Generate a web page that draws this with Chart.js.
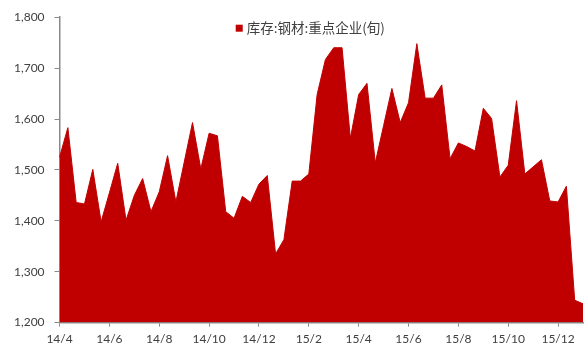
<!DOCTYPE html>
<html>
<head>
<meta charset="utf-8">
<script src="https://cdn.jsdelivr.net/npm/chart.js@4/dist/chart.umd.min.js"></script>
<style>
    html, body { margin: 0; padding: 0; background: #fff; }
    #wrap { width: 584px; height: 349px; }
</style>
</head>
<body>
<div id="wrap"><canvas id="stock-chart"></canvas></div>
<script>
// Months covered by the series, three dekads (上/中/下旬) each
const months = ['14/4', '14/5', '14/6', '14/7', '14/8', '14/9', '14/10', '14/11', '14/12',
    '15/1', '15/2', '15/3', '15/4', '15/5', '15/6', '15/7', '15/8', '15/9', '15/10', '15/11', '15/12', '16/1'];
const dekads = ['上旬', '中旬', '下旬'];

// Labels shown under the x axis, one every two months
const tickLabels = ['14/4', '14/6', '14/8', '14/10', '14/12', '15/2', '15/4', '15/6', '15/8', '15/10', '15/12'];

// 库存:钢材:重点企业(旬), 万吨
const stockValues = [
    1525, 1583, 1436, 1433, 1501, 1398, 1455, 1513, 1401, 1450, 1483, 1418,
    1457, 1528, 1437, 1515, 1593, 1502, 1572, 1567, 1418, 1405, 1448, 1436,
    1472, 1489, 1335, 1363, 1478, 1478, 1492, 1648, 1717, 1740, 1740, 1562,
    1648, 1670, 1514, 1587, 1660, 1593, 1632, 1748, 1641, 1641, 1667, 1522,
    1553, 1546, 1537, 1621, 1601, 1486, 1509, 1636, 1492, 1506, 1520, 1439,
    1437, 1468, 1244, 1237
];

const seriesName = '库存:钢材:重点企业(旬)';
const seriesColor = '#C00000';
const axisColor = '#898989';
const textColor = '#404040';
const tickFont = { family: 'Lato, "Liberation Sans", sans-serif', size: 12 };
const legendFont = '13.5px "Noto Sans CJK SC", sans-serif';

// one category per dekad, trimmed to the number of readings
const categories = months.flatMap(m => dekads.map(d => m + d)).slice(0, stockValues.length);

/**
 * Legend laid over the top of the plot area, centred on it
 */
const overlayLegend = {
    id: 'overlayLegend',
    afterDatasetsDraw(chart) {
        const { ctx, chartArea } = chart;
        const box = 7;
        const gap = 4;

        ctx.save();
        ctx.font = legendFont;
        const textWidth = ctx.measureText(seriesName).width;
        const left = (chartArea.left + chartArea.right) / 2 - (box + gap + textWidth) / 2 - 11;
        const midY = chartArea.top + 11;

        ctx.fillStyle = seriesColor;
        ctx.fillRect(left, midY - box / 2, box, box);

        ctx.fillStyle = textColor;
        ctx.textBaseline = 'middle';
        ctx.textAlign = 'left';
        ctx.fillText(seriesName, left + box + gap, midY);
        ctx.restore();
    }
};

new Chart(document.getElementById('stock-chart'), {
    type: 'line',
    data: {
        labels: categories,
        datasets: [{
            label: seriesName,
            data: stockValues,
            fill: 'start',
            backgroundColor: seriesColor,
            borderColor: seriesColor,
            borderWidth: 1,
            pointRadius: 0,
            tension: 0
        }]
    },
    options: {
        responsive: true,
        maintainAspectRatio: false,
        animation: false,
        layout: {
            padding: { left: 4, right: 1, top: -2, bottom: -2 }
        },
        plugins: {
            tooltip: { enabled: false },
            legend: { display: false }
        },
        scales: {
            x: {
                type: 'category',
                offset: false,
                grid: {
                    drawOnChartArea: false,
                    drawTicks: true,
                    tickLength: 4,
                    color: axisColor
                },
                border: { color: axisColor, width: 1.5 },
                ticks: {
                    autoSkip: false,
                    maxRotation: 0,
                    padding: 5,
                    color: textColor,
                    font: tickFont,
                    // only month starts every two months get a label and a tick mark
                    callback: (value, index) => index % 6 === 0 ? tickLabels[index / 6] : null
                }
            },
            y: {
                min: 1200,
                max: 1800,
                grid: {
                    drawOnChartArea: false,
                    drawTicks: true,
                    tickLength: 5,
                    color: axisColor
                },
                border: { color: axisColor, width: 1.5 },
                ticks: {
                    stepSize: 100,
                    padding: 10,
                    color: textColor,
                    font: tickFont,
                    callback: value => value.toLocaleString('en-US')
                }
            }
        }
    },
    plugins: [overlayLegend]
});
</script>
</body>
</html>
